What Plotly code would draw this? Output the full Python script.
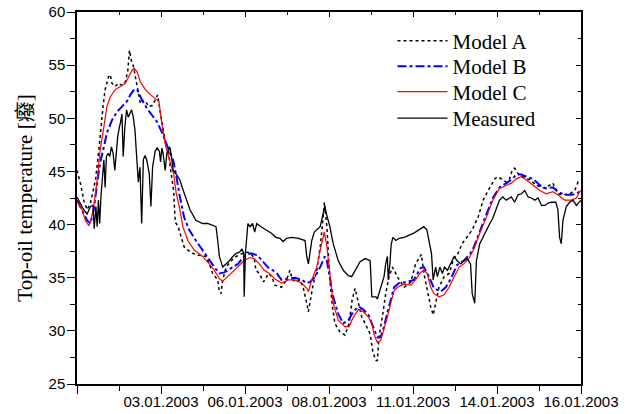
import plotly.graph_objects as go

# x positions are in axis-tick units (0..12); labels every second tick
tick_vals = [0, 2, 4, 6, 8, 10, 12]
tick_text = ["", "03.01.2003", "06.01.2003", "08.01.2003", "11.01.2003", "14.01.2003", "16.01.2003"]

model_a_x = [0.00, 0.08, 0.16, 0.24, 0.32, 0.38, 0.44, 0.52, 0.57, 0.62, 0.67, 0.75, 0.79, 0.83, 0.91, 0.99,
             1.07, 1.15, 1.21, 1.25, 1.29, 1.35, 1.39, 1.45, 1.51, 1.55, 1.63, 1.71, 1.79, 1.86, 1.92, 1.98,
             2.05, 2.10, 2.18, 2.22, 2.30, 2.34, 2.40, 2.48, 2.55, 2.64, 2.75, 2.91, 3.07, 3.15, 3.23, 3.35,
             3.39, 3.43, 3.47, 3.55, 3.67, 3.79, 3.95, 4.06, 4.14, 4.22, 4.26, 4.34, 4.44, 4.56, 4.64, 4.71,
             4.87, 4.99, 5.07, 5.13, 5.23, 5.31, 5.39, 5.47, 5.51, 5.57, 5.63, 5.71, 5.79, 5.84, 5.89, 5.95,
             5.98, 6.02, 6.08, 6.14, 6.26, 6.38, 6.48, 6.55, 6.62, 6.70, 6.78, 6.86, 6.98, 7.05, 7.12, 7.15,
             7.19, 7.27, 7.35, 7.43, 7.51, 7.59, 7.67, 7.79, 7.95, 8.06, 8.14, 8.20, 8.26, 8.34, 8.42, 8.48,
             8.54, 8.62, 8.74, 8.86, 8.98, 9.05, 9.17, 9.29, 9.41, 9.55, 9.67, 9.83, 9.95, 10.02, 10.14, 10.22,
             10.30, 10.36, 10.42, 10.50, 10.62, 10.78, 10.94, 11.14, 11.33, 11.45, 11.57, 11.73, 11.85, 11.93, 12.00]
model_a_y = [45.1, 43.9, 42.3, 41.4, 42.0, 43.2, 44.2, 47.0, 49.2, 51.1, 52.7, 53.9, 54.1, 53.3, 53.0, 53.3,
             53.1, 53.4, 54.5, 56.4, 55.5, 54.8, 53.9, 52.7, 51.4, 51.7, 51.6, 51.1, 51.2, 51.7, 52.2, 50.6,
             49.2, 47.9, 47.0, 45.4, 43.2, 40.2, 39.9, 38.8, 37.9, 37.6, 37.3, 37.1, 37.0, 36.3, 35.4, 34.8,
             33.7, 33.5, 34.8, 36.0, 36.6, 37.0, 37.3, 37.4, 37.3, 36.8, 35.7, 35.4, 34.6, 35.4, 35.1, 34.3,
             34.1, 34.8, 35.7, 34.8, 34.6, 34.8, 34.0, 32.6, 31.8, 33.2, 34.5, 35.7, 37.9, 39.8, 42.1, 39.8,
             37.3, 34.8, 32.3, 30.7, 29.9, 29.6, 30.7, 32.9, 34.0, 32.6, 31.3, 30.7, 29.7, 27.9, 27.2, 27.2,
             29.4, 31.3, 33.5, 35.1, 36.0, 35.4, 34.8, 34.1, 34.6, 36.3, 36.9, 37.2, 35.4, 33.8, 32.3, 31.5,
             32.6, 34.1, 35.1, 35.4, 36.9, 37.1, 38.2, 38.8, 39.5, 40.7, 42.3, 43.5, 44.3, 44.5, 44.2, 44.0,
             44.3, 45.1, 45.3, 44.8, 44.5, 44.2, 43.7, 43.4, 43.9, 42.9, 42.8, 42.9, 43.2, 44.0, 43.9]

model_b_x = [0.00, 0.12, 0.24, 0.32, 0.40, 0.48, 0.55, 0.64, 0.71, 0.83, 0.95, 1.07, 1.19, 1.27, 1.36, 1.43,
             1.55, 1.67, 1.79, 1.90, 2.02, 2.10, 2.22, 2.30, 2.38, 2.44, 2.55, 2.67, 2.83, 2.99, 3.15, 3.27,
             3.39, 3.51, 3.67, 3.83, 3.98, 4.14, 4.30, 4.42, 4.54, 4.66, 4.76, 4.87, 5.03, 5.19, 5.35, 5.47,
             5.55, 5.67, 5.79, 5.90, 5.95, 6.02, 6.10, 6.22, 6.34, 6.46, 6.58, 6.70, 6.82, 6.94, 7.05, 7.15,
             7.23, 7.31, 7.39, 7.47, 7.55, 7.67, 7.86, 8.02, 8.18, 8.26, 8.38, 8.50, 8.66, 8.78, 8.90, 9.05,
             9.21, 9.37, 9.45, 9.74, 9.90, 10.06, 10.22, 10.34, 10.46, 10.58, 10.70, 10.86, 11.02, 11.17, 11.33,
             11.45, 11.61, 11.77, 11.89, 12.00]
model_b_y = [42.3, 41.4, 40.4, 40.1, 41.4, 43.9, 45.8, 47.3, 48.6, 49.8, 50.6, 51.1, 51.6, 52.2, 52.7, 52.7,
             51.7, 50.9, 50.3, 49.7, 48.7, 47.9, 46.8, 45.9, 44.2, 42.8, 40.7, 39.5, 38.5, 37.6, 36.6, 36.0,
             35.4, 35.5, 35.9, 36.3, 37.0, 37.3, 37.1, 36.6, 36.0, 35.7, 35.4, 34.8, 34.9, 35.0, 34.8, 34.5,
             34.6, 35.1, 36.0, 37.0, 36.6, 34.8, 33.2, 31.6, 30.7, 31.0, 31.8, 32.3, 32.0, 31.5, 30.4, 29.4,
             29.4, 30.4, 31.7, 33.0, 34.1, 34.5, 34.6, 34.8, 35.9, 36.0, 35.1, 34.0, 33.7, 34.1, 34.9, 36.2,
             36.6, 37.3, 37.9, 40.9, 42.5, 43.5, 43.9, 44.2, 44.7, 44.7, 44.5, 44.3, 43.7, 43.4, 43.5,
             43.1, 42.8, 42.8, 42.9, 43.2]

model_c_x = [0.00, 0.12, 0.20, 0.28, 0.33, 0.40, 0.48, 0.55, 0.64, 0.71, 0.79, 0.91, 1.03, 1.15, 1.23, 1.31,
             1.36, 1.43, 1.51, 1.63, 1.75, 1.86, 1.95, 2.02, 2.10, 2.18, 2.30, 2.36, 2.44, 2.52, 2.64, 2.79,
             2.99, 3.15, 3.27, 3.39, 3.47, 3.59, 3.75, 3.95, 4.10, 4.22, 4.34, 4.46, 4.58, 4.74, 4.87, 5.03,
             5.19, 5.35, 5.47, 5.51, 5.59, 5.71, 5.79, 5.89, 5.95, 6.02, 6.10, 6.22, 6.38, 6.48, 6.58, 6.70,
             6.82, 6.94, 7.02, 7.07, 7.15, 7.23, 7.31, 7.39, 7.47, 7.55, 7.63, 7.79, 7.95, 8.06, 8.18, 8.26,
             8.34, 8.42, 8.50, 8.62, 8.74, 8.86, 8.98, 9.10, 9.21, 9.33, 9.45, 9.59, 9.75, 9.90, 10.06, 10.22,
             10.34, 10.46, 10.58, 10.70, 10.86, 11.02, 11.17, 11.33, 11.45, 11.61, 11.77, 11.89, 11.97, 12.00]
model_c_y = [42.2, 41.4, 40.4, 39.9, 40.3, 41.7, 44.2, 47.0, 49.2, 51.1, 52.0, 52.7, 53.0, 53.3, 53.9, 54.5,
             54.7, 54.4, 53.4, 52.7, 52.2, 51.9, 51.6, 49.5, 47.6, 46.4, 44.8, 43.0, 41.6, 39.8, 38.5, 37.6,
             37.0, 36.3, 35.7, 34.9, 34.7, 35.1, 35.7, 36.5, 36.9, 36.8, 36.3, 35.7, 35.4, 34.8, 34.5, 34.8,
             34.8, 34.5, 34.0, 33.7, 34.8, 36.0, 37.6, 39.3, 37.9, 35.1, 32.6, 31.0, 30.4, 30.4, 31.3, 32.0,
             31.8, 31.3, 30.7, 29.7, 28.9, 29.1, 30.1, 31.3, 32.6, 33.8, 34.1, 34.4, 34.3, 34.8, 35.5, 35.7,
             35.4, 34.1, 33.5, 33.2, 33.4, 34.1, 35.1, 36.0, 36.3, 36.8, 37.7, 39.2, 40.7, 42.3, 43.4, 43.7,
             43.9, 44.3, 44.5, 44.2, 43.7, 43.2, 42.9, 43.1, 42.8, 42.3, 42.3, 42.5, 43.1, 43.2]

measured_x = [0.00, 0.08, 0.16, 0.24, 0.32, 0.38, 0.41, 0.45, 0.48, 0.51, 0.54, 0.57, 0.60, 0.64, 0.67, 0.70,
              0.74, 0.78, 0.82, 0.86, 0.90, 0.94, 0.97, 1.01, 1.03, 1.07, 1.10, 1.14, 1.18, 1.22, 1.26, 1.30,
              1.34, 1.38, 1.42, 1.46, 1.50, 1.54, 1.58, 1.62, 1.66, 1.72, 1.76, 1.80, 1.86, 1.91, 1.96, 1.99,
              2.02, 2.05, 2.10, 2.14, 2.17, 2.21, 2.25, 2.29, 2.37, 2.45, 2.53, 2.61, 2.69, 2.83, 2.99, 3.11,
              3.23, 3.31, 3.35, 3.39, 3.47, 3.55, 3.63, 3.71, 3.79, 3.87, 3.93, 3.97, 3.98, 4.01, 4.04, 4.07,
              4.12, 4.18, 4.23, 4.28, 4.38, 4.50, 4.62, 4.74, 4.83, 4.91, 4.99, 5.11, 5.27, 5.43, 5.47, 5.51,
              5.55, 5.59, 5.65, 5.71, 5.79, 5.86, 5.90, 5.94, 6.02, 6.10, 6.22, 6.34, 6.46, 6.54, 6.62, 6.74,
              6.86, 6.98, 7.02, 7.12, 7.15, 7.23, 7.31, 7.35, 7.39, 7.41, 7.45, 7.48, 7.52, 7.59, 7.67, 7.79,
              7.90, 8.02, 8.14, 8.26, 8.33, 8.38, 8.44, 8.48, 8.54, 8.58, 8.64, 8.70, 8.75, 8.82, 8.90, 8.98,
              9.05, 9.14, 9.21, 9.29, 9.37, 9.41, 9.47, 9.51, 9.59, 9.71, 9.83, 9.90, 9.98, 10.06, 10.14, 10.22,
              10.30, 10.34, 10.42, 10.50, 10.58, 10.66, 10.74, 10.82, 10.90, 10.98, 11.06, 11.14, 11.21, 11.29,
              11.40, 11.45, 11.49, 11.53, 11.57, 11.65, 11.73, 11.81, 11.89, 11.95, 12.00]
measured_y = [42.6, 42.0, 41.4, 41.0, 41.7, 41.8, 39.6, 41.7, 39.8, 42.3, 40.1, 42.6, 44.2, 46.1, 43.5, 46.4,
              46.7, 46.4, 47.3, 46.7, 45.1, 47.3, 48.3, 49.2, 49.5, 50.4, 46.4, 49.2, 50.8, 50.1, 50.4, 50.8,
              50.1, 48.9, 46.4, 44.0, 45.4, 40.1, 46.1, 46.5, 46.1, 44.8, 41.7, 45.4, 46.9, 47.2, 46.9, 45.9,
              47.2, 46.7, 45.1, 46.7, 47.0, 47.3, 46.4, 45.1, 44.7, 44.2, 43.2, 42.3, 41.4, 40.4, 40.1, 40.1,
              39.9, 39.8, 38.5, 37.0, 36.0, 36.3, 36.6, 37.0, 37.3, 37.4, 37.7, 37.3, 33.2, 37.3, 38.5, 40.1,
              39.8, 40.1, 39.3, 40.1, 39.8, 39.5, 39.2, 38.8, 38.7, 38.4, 38.7, 38.8, 38.7, 38.5, 37.0, 36.3,
              37.6, 38.5, 39.3, 39.5, 39.8, 41.0, 41.7, 41.0, 39.8, 38.2, 36.6, 35.7, 35.2, 35.1, 35.7, 36.5,
              36.8, 36.6, 33.2, 33.2, 33.0, 34.1, 35.1, 36.3, 37.0, 34.8, 36.3, 38.1, 38.8, 38.5, 38.7, 38.8,
              39.0, 39.2, 39.5, 39.8, 39.5, 38.5, 37.3, 34.8, 36.0, 35.1, 36.0, 35.4, 36.0, 35.7, 36.3, 37.0,
              36.6, 36.3, 36.6, 36.8, 36.3, 33.5, 32.6, 36.6, 38.2, 39.2, 40.1, 40.6, 41.4, 42.3, 42.6, 42.3,
              42.5, 42.6, 42.1, 42.8, 42.9, 43.2, 42.6, 42.5, 42.3, 42.5, 41.8, 41.8, 42.0, 42.1,
              42.1, 41.4, 38.8, 38.2, 40.4, 41.7, 42.1, 42.3, 41.8, 42.1, 42.3]

X_RANGE = [0, 12]
Y_RANGE = [25, 60]

legend_font = dict(family="Liberation Serif, Times New Roman, serif", size=21, color="black")

fig = go.Figure()
fig.add_trace(go.Scatter(x=model_a_x, y=model_a_y, mode="lines", name="Model A", legend="legend",
                         line=dict(color="black", width=1.5, dash="dot")))
fig.add_trace(go.Scatter(x=model_b_x, y=model_b_y, mode="lines", name="Model B", legend="legend2",
                         line=dict(color="#0000ff", width=2, dash="dashdot")))
fig.add_trace(go.Scatter(x=model_c_x, y=model_c_y, mode="lines", name="Model C", legend="legend3",
                         line=dict(color="#ff0000", width=1.2)))
fig.add_trace(go.Scatter(x=measured_x, y=measured_y, mode="lines", name="Measured", legend="legend4",
                         line=dict(color="black", width=1.3)))
# invisible trace to carry the mirrored (inside-tick) top/right axes
fig.add_trace(go.Scatter(x=[None], y=[None], xaxis="x2", yaxis="y2", showlegend=False,
                         hoverinfo="skip", mode="lines"))

tick_font = dict(family="Liberation Sans, Arial, sans-serif", size=15, color="black")


def leg(y):
    return dict(x=0.626, y=y, xanchor="left", yanchor="middle", font=legend_font,
                itemwidth=50, bgcolor="rgba(0,0,0,0)")


fig.update_layout(
    width=631, height=414,
    margin=dict(l=77, r=50, t=12, b=30, autoexpand=False),
    paper_bgcolor="white", plot_bgcolor="white",
    showlegend=True,
    legend=leg(0.922), legend2=leg(0.8535), legend3=leg(0.785), legend4=leg(0.714),
    xaxis=dict(range=X_RANGE, showgrid=False, zeroline=False, automargin=False,
               showline=True, linecolor="black", linewidth=1.5,
               tickmode="array", tickvals=tick_vals, ticktext=tick_text,
               ticks="outside", ticklen=8, tickwidth=1.2, tickcolor="black",
               tickfont=tick_font, ticklabelstandoff=-5,
               minor=dict(dtick=1, tick0=0, ticks="outside", ticklen=5, tickwidth=1.2, tickcolor="black")),
    yaxis=dict(range=Y_RANGE, showgrid=False, zeroline=False, automargin=False,
               showline=True, linecolor="black", linewidth=1.5,
               tick0=25, dtick=5,
               ticks="outside", ticklen=8, tickwidth=1.2, tickcolor="black",
               tickfont=tick_font, ticklabelstandoff=-1,
               minor=dict(dtick=2.5, tick0=25, ticks="outside", ticklen=5, tickwidth=1.2, tickcolor="black"),
               title=dict(text="Top-oil temperature [癈]",
                          font=dict(family="Liberation Serif, Times New Roman, Noto Sans CJK SC, serif",
                                    size=21, color="black"),
                          standoff=10)),
    xaxis2=dict(range=X_RANGE, overlaying="x", side="top", anchor="y2", showgrid=False, zeroline=False,
                automargin=False, showline=True, linecolor="black", linewidth=1.5,
                tickmode="array", tickvals=tick_vals, showticklabels=False,
                ticks="inside", ticklen=5, tickwidth=1.2, tickcolor="black",
                minor=dict(dtick=1, tick0=0, ticks="inside", ticklen=3, tickwidth=1.2, tickcolor="black")),
    yaxis2=dict(range=Y_RANGE, overlaying="y", side="right", anchor="x2", showgrid=False, zeroline=False,
                automargin=False, showline=True, linecolor="black", linewidth=1.5,
                tick0=25, dtick=5, showticklabels=False,
                ticks="inside", ticklen=5, tickwidth=1.2, tickcolor="black",
                minor=dict(dtick=2.5, tick0=25, ticks="inside", ticklen=3, tickwidth=1.2, tickcolor="black")),
)

fig.write_html("out.html")
